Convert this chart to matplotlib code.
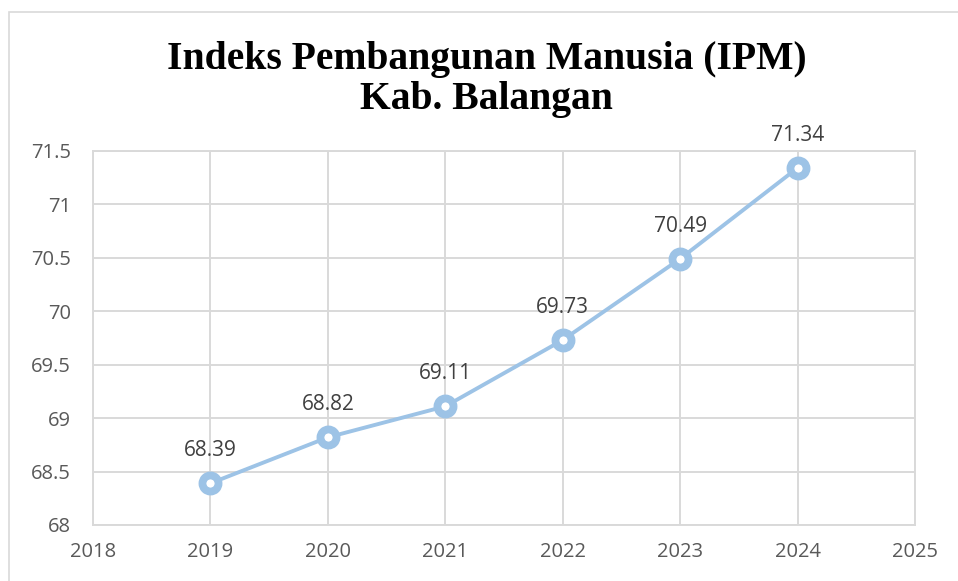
import matplotlib
matplotlib.use("Agg")
import matplotlib.pyplot as plt
from matplotlib.patches import Rectangle

# data
years = [2019, 2020, 2021, 2022, 2023, 2024]
ipm = [68.39, 68.82, 69.11, 69.73, 70.49, 71.34]
x_ticks = [2018, 2019, 2020, 2021, 2022, 2023, 2024, 2025]
y_ticks = [68, 68.5, 69, 69.5, 70, 70.5, 71, 71.5]
y_labels = ['68', '68.5', '69', '69.5', '70', '70.5', '71', '71.5']

line_col = '#9DC3E6'
text_col = '#595959'

fig = plt.figure(figsize=(9.58, 5.81), dpi=100)
ax = fig.add_axes([0.0971, 0.0964, 0.858, 0.644])

# outer chart frame (only top/left visible in the crop)
fig.patches.append(Rectangle((9 / 958, -0.1), 1.2, 1 - 12 / 581 + 0.1,
                             transform=fig.transFigure, fill=False,
                             edgecolor='#D9D9D9', linewidth=1.2))

ax.plot(years, ipm, color=line_col, linewidth=2.8, marker='o',
        markersize=11.6, markerfacecolor='white', markeredgecolor=line_col,
        markeredgewidth=5.6, zorder=3)

for x, y in zip(years, ipm):
    ax.annotate(f'{y:.2f}', (x, y), xytext=(0, 16), textcoords='offset points',
                ha='center', va='bottom', fontsize=15, color='#404040',
                family='Open Sans')

ax.set_xlim(2018, 2025)
ax.set_ylim(68, 71.5)
ax.set_xticks(x_ticks)
ax.set_yticks(y_ticks)
ax.set_yticklabels(y_labels)
ax.grid(True, color='#D9D9D9', linewidth=1.4)
ax.set_axisbelow(True)
for s in ax.spines.values():
    s.set_color('#D9D9D9')
    s.set_linewidth(1.4)
ax.tick_params(length=0, labelsize=14.5, labelcolor=text_col)
for lab in ax.get_xticklabels() + ax.get_yticklabels():
    lab.set_family('Open Sans')
ax.tick_params(axis='x', pad=12)
ax.tick_params(axis='y', pad=16)

fig.text(0.508, 0.863, 'Indeks Pembangunan Manusia (IPM)\nKab. Balangan',
         ha='center', va='center', fontsize=28.5, fontweight='bold',
         family='Liberation Serif', linespacing=1.08)

fig.savefig('out.png', dpi=100)
